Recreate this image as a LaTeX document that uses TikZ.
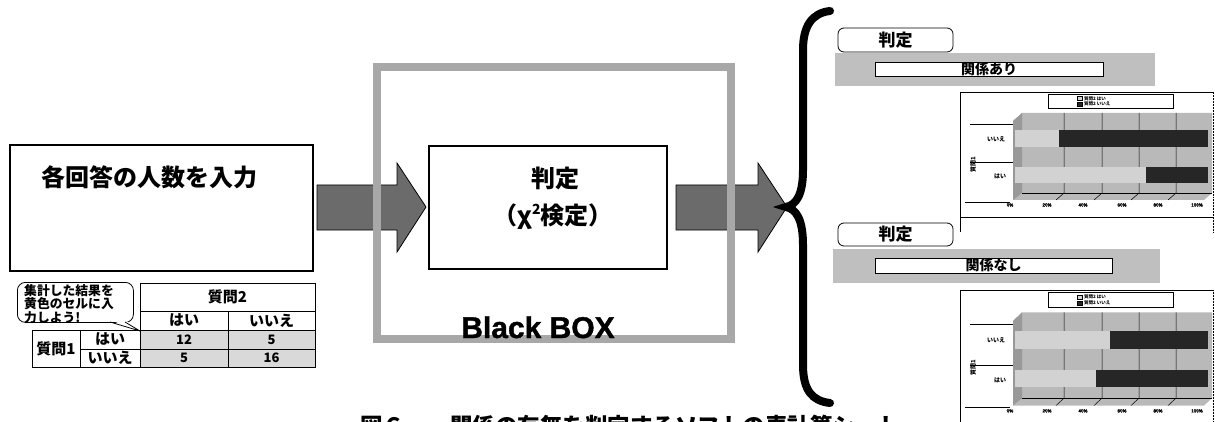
\documentclass[tikz,border=0pt]{standalone}
\usepackage{fontspec}
\setmainfont{Liberation Sans}[BoldFeatures={FakeBold=1.2}]
\newfontfamily\jp{Noto Sans CJK JP}
\newcommand\jfs[1]{\jp\bfseries\fontsize{#1}{#1}\selectfont}
\newcommand\bx[7]{\node[#6, anchor=north west, inner sep=0pt, outer sep=0pt, minimum width={#4-#2}, minimum height={#5-#3}] (#1) at (#2,#3) {#7};}
\newcommand\mychart[4]{%
\begin{scope}[shift={#1}, yscale=#2]
  \draw[line width=0.7pt] (0,0) -- (253,0) (0,0) -- (0,140);
  \draw[line width=0.5pt, densely dotted] (253,0) -- (253,140);
  \draw[line width=0.5pt, fill=white] (88,2) rectangle (213,16);
  \draw[line width=0.3pt, fill=gray!35] (117,4.5) rectangle (122,8.5);
  \draw[line width=0.3pt, fill=black!85] (117,10) rectangle (122,14);
  \node[anchor=west, inner sep=0pt, font=\jfs{4.5}] at (124,6.5) {質問2 はい};
  \node[anchor=west, inner sep=0pt, font=\jfs{4.5}] at (124,12) {質問2 いいえ};
  \fill[gray!55] (53,29) -- (62,21) -- (252,21) -- (252,101) -- (244,108) -- (53,108) -- cycle;
  \fill[gray!80] (53,29) -- (62,21) -- (62,101) -- (53,108) -- cycle;
  \foreach \gx in {104,142,179,216} {\draw[line width=0.5pt] (\gx,21) -- (\gx,101) -- (\gx-8,108);}
  \draw[line width=0.5pt] (62,101) -- (252,101);
  \fill[gray!35] (55,38) rectangle ({55+#3*193},55);
  \fill[black!85] ({55+#3*193},38) rectangle (248,55);
  \fill[gray!35] (55,75) rectangle ({55+#4*193},91);
  \fill[black!85] ({55+#4*193},75) rectangle (248,91);
  \draw[line width=0.6pt] (10,32) -- (53,32) (10,70) -- (53,70) (5,110) -- (50,110);
  \node[font=\jfs{6}, inner sep=0pt] at (36,47) {いいえ};
  \node[font=\jfs{6}, inner sep=0pt] at (40,84) {はい};
  \node[font=\jfs{6}, inner sep=0pt, rotate=90] at (13,73) {質問1};
  \foreach \lx/\lt in {50/0\%,87/20\%,123/40\%,162/60\%,198/80\%,237/100\%}
    {\node[font=\bfseries\fontsize{4.5}{5}\selectfont, inner sep=0pt] at (\lx,113) {\lt};}
\end{scope}}
\begin{document}
\begin{tikzpicture}[x=1pt, y=-1pt,
  cell/.style={draw, line width=0.8pt, font=\jfs{15}},
  dcell/.style={cell, fill=gray!30, font=\jfs{13}},
  arrowfill/.style={fill=black!58, draw=black, line width=0.8pt},
]
\useasboundingbox (0,0) rectangle (1215,422);
\clip (0,0) rectangle (1215,422);
\fill[white] (0,0) rectangle (1215,422);

% input box
\bx{inbox}{10}{145}{313}{271}{draw, line width=1.2pt}{}
\node[font=\jfs{24}] (intitle) at (149,177) {各回答の人数を入力};

% speech bubble
\node[draw, line width=0.8pt, rounded corners=8pt, anchor=north west, minimum width=116, minimum height=40, inner sep=0pt] (bubble) at (17,282) {};
\fill[white] (110,320) -- (140,331) -- (125,320) -- cycle;
\draw[line width=0.8pt] (110,322) -- (140,331) -- (125,322);
\node[anchor=north west, align=left, inner sep=0pt, font=\jp\bfseries\fontsize{12.8}{10.3}\selectfont] (btext) at (24,284.5) {集計した結果を\\黄色のセルに入\\力しよう!};

% table
\bx{q2}{140}{283}{315}{311}{cell}{質問2}
\bx{h1}{140}{311}{228}{330}{cell}{はい}
\bx{h2}{228}{311}{315}{330}{cell}{いいえ}
\bx{q1}{32}{330}{80}{367}{cell}{質問1}
\bx{r1}{80}{330}{140}{349}{cell}{はい}
\bx{r2}{80}{349}{140}{367}{cell}{いいえ}
\bx{d11}{140}{330}{228}{349}{dcell}{12}
\bx{d12}{228}{330}{315}{349}{dcell}{5}
\bx{d21}{140}{349}{228}{367}{dcell}{5}
\bx{d22}{228}{349}{315}{367}{dcell}{16}

% arrows
\path[arrowfill] (317,185) -- (397,185) -- (397,163) -- (426,207) -- (397,252) -- (397,230) -- (317,230) -- cycle;
\path[arrowfill] (676,185) -- (758,185) -- (758,163) -- (787,207) -- (758,252) -- (758,230) -- (676,230) -- cycle;

% black box frame
\bx{bbox}{377}{67}{731}{339}{draw=gray!68, line width=8pt}{}
\bx{judge}{429}{146}{667}{269}{draw, line width=1.2pt, fill=white}{}
\node[font=\jfs{24}] (jt1) at (555,178) {判定};
\node[font=\jfs{24}] (jt2) at (553,217) {（χ\raisebox{0.42em}{\fontsize{14}{14}\selectfont 2}検定）};
\node[anchor=base, inner sep=0pt, font=\bfseries\fontsize{30}{30}\selectfont] (bbtitle) at (538,338) {Black BOX};

% brace
\draw[line width=8pt, line cap=round] (830,11) .. controls (812,13) and (803,26) .. (803,50) -- (803,170) .. controls (803,195) and (796,205) .. (786,207) .. controls (796,209) and (803,219) .. (803,245) -- (803,365) .. controls (803,390) and (812,401) .. (830,403);

% result panel 1
\bx{j1}{838}{28}{953}{52}{draw, line width=0.8pt, rounded corners=6pt, font=\jfs{17}}{判定}
\bx{band1}{835}{53}{1155}{86}{fill=gray!50}{}
\bx{res1}{875}{63}{1103}{76}{draw, line width=1pt, fill=white, font=\jfs{14}}{関係あり}
\mychart{(960,92)}{1}{0.23}{0.68}

% result panel 2
\bx{j2}{838}{223}{953}{246}{draw, line width=0.8pt, rounded corners=6pt, font=\jfs{17}}{判定}
\bx{band2}{833}{249}{1160}{283}{fill=gray!50}{}
\bx{res2}{875}{258}{1112}{273}{draw, line width=1pt, fill=white, font=\jfs{14}}{関係なし}
\mychart{(960,290)}{1.07}{0.49}{0.42}
\draw[line width=0.7pt] (960,217) -- (1213,217);

% caption (cut off at the bottom edge, as in the reference)
\node[anchor=base west, inner sep=0pt, font=\jfs{22.5}] (cap1) at (360,434) {図６};
\node[anchor=base west, inner sep=0pt, font=\jfs{22.5}] (cap2) at (450,434) {関係の有無を判定するソフトの表計算シート};
\end{tikzpicture}
\end{document}
